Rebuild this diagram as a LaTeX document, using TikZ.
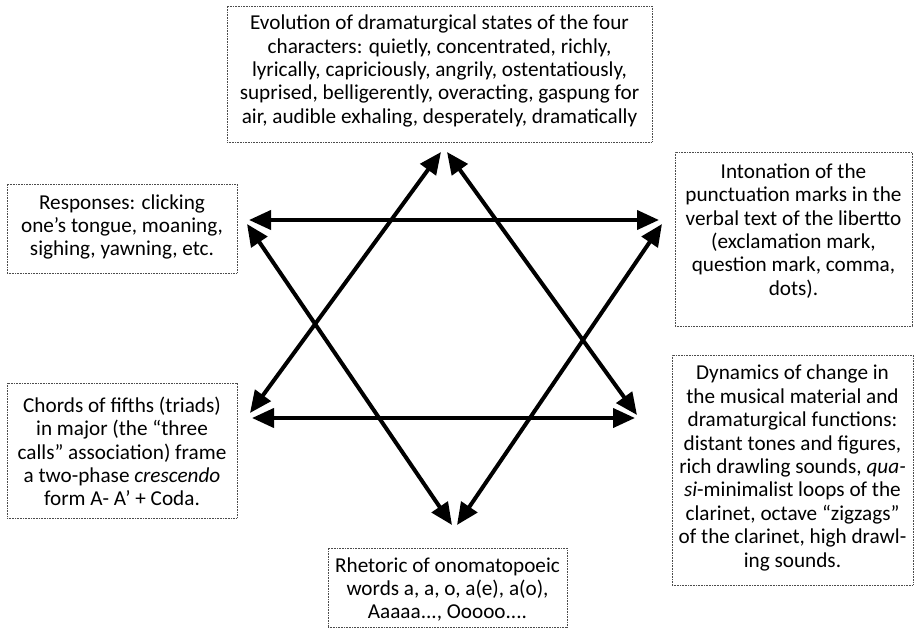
\documentclass[tikz,border=0pt]{standalone}
\usepackage{fontspec}
\setmainfont{Carlito}
\usetikzlibrary{arrows.meta}
\begin{document}
\begin{tikzpicture}[x=1pt,y=-1pt,
  box/.style={draw=black!70, line width=0.8pt, dash pattern=on 0.8pt off 0.8pt, inner sep=0pt},
  txt/.style={align=center, font=\fontsize{21.2}{23.4}\selectfont, inner sep=0pt, text=black},
  arr/.style={{Triangle[length=22pt,width=19pt]}-{Triangle[length=22pt,width=19pt]}, line width=4pt, black}]
\useasboundingbox (0,0) rectangle (914,637);
% boxes
\node[box, minimum width=425pt, minimum height=136pt] (topbox) at (439.5,74) {};
\node[txt] (toptext) at (439.5,71) {Evolution of dramaturgical states of the four\\characters: quietly, concentrated, richly,\\lyrically, capriciously, angrily, ostentatiously,\\suprised, belligerently, overacting, gaspung for\\air, audible exhaling, desperately, dramatically};
\node[box, minimum width=230pt, minimum height=89pt] (respbox) at (122,228.5) {};
\node[txt] (resptext) at (122,227) {Responses: clicking\\one’s tongue, moaning,\\sighing, yawning, etc.};
\node[box, minimum width=237pt, minimum height=174pt] (intobox) at (793.5,239) {};
\node[txt] (intotext) at (793.5,231) {Intonation of the\\punctuation marks in the\\verbal text of the libertto\\(exclamation mark,\\question mark, comma,\\dots).};
\node[box, minimum width=230pt, minimum height=135pt] (chordbox) at (122,450.5) {};
\node[txt] (chordtext) at (122,451.5) {Chords of fifths (triads)\\in major (the “three\\calls” association) frame\\a two-phase \textit{crescendo}\\form A- A’ + Coda.};
\node[box, minimum width=241pt, minimum height=230pt] (dynbox) at (792.5,470) {};
\node[txt] (dyntext) at (792.5,468) {Dynamics of change in\\the musical material and\\dramaturgical functions:\\distant tones and figures,\\rich drawling sounds, \textit{qua-}\\\textit{si}-minimalist loops of the\\clarinet, octave “zigzags”\\of the clarinet, high drawl-\\ing sounds.};
\node[box, minimum width=239pt, minimum height=79pt] (rhetbox) at (447.5,587.5) {};
\node[txt] (rhettext) at (447.5,589.5) {Rhetoric of onomatopoeic\\words a, a, o, a(e), a(o),\\Aaaaa..., Ooooo....};
% arrow tips
\coordinate (TL1) at (249,220);
\coordinate (TR1) at (659,220);
\coordinate (BL1) at (252,418);
\coordinate (BR1) at (635,418);
\coordinate (AL) at (441,152);
\coordinate (LL) at (250,413);
\coordinate (AR) at (447,152);
\coordinate (LR) at (637,415);
\coordinate (TL2) at (247,224);
\coordinate (BotL) at (452,525);
\coordinate (TR2) at (662,224);
\coordinate (BotR) at (457,525);
% arrows
\draw[arr] (TL1) -- (TR1);
\draw[arr] (BL1) -- (BR1);
\draw[arr] (LL) -- (AL);
\draw[arr] (LR) -- (AR);
\draw[arr] (TL2) -- (BotL);
\draw[arr] (TR2) -- (BotR);
\end{tikzpicture}
\end{document}
